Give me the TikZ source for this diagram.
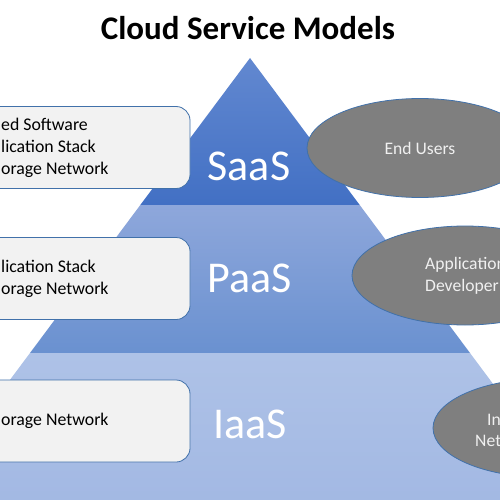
\documentclass[tikz,border=0pt]{standalone}
\usepackage{fontspec}
\setmainfont{Carlito}
\usetikzlibrary{shapes.geometric,positioning}
\definecolor{SaaSTop}{RGB}{98,136,208}
\definecolor{SaaSBottom}{RGB}{66,112,196}
\definecolor{PaaSTop}{RGB}{142,167,219}
\definecolor{PaaSBottom}{RGB}{106,145,208}
\definecolor{IaaSTop}{RGB}{174,194,231}
\definecolor{IaaSBottom}{RGB}{162,184,227}
\definecolor{BoxFill}{RGB}{242,242,242}
\definecolor{EdgeBlue}{RGB}{65,113,170}
\definecolor{CloudGray}{RGB}{127,127,127}
\tikzset{
    layerbox/.style={draw=EdgeBlue, fill=BoxFill, rectangle, rounded corners=14pt,
                     minimum width=230pt, minimum height=82pt, line width=0.8pt},
    boxtext/.style={anchor=west, align=left, inner sep=0pt,
                    font=\fontsize{17.8}{22}\selectfont},
    usercloud/.style={draw=EdgeBlue, fill=CloudGray, ellipse, inner sep=0pt,
                      minimum width=226pt, minimum height=99pt, line width=0.8pt,
                      text=white!94!black, font=\fontsize{17.6}{22}\selectfont},
    usertext/.style={anchor=west, align=left, inner sep=0pt, text=white!94!black,
                     font=\fontsize{17.6}{22}\selectfont},
    layerlabel/.style={anchor=base, inner sep=0pt, text=white,
                       font=\fontsize{44}{44}\selectfont}
}
\begin{document}
\begin{tikzpicture}[x=1pt, y=-1pt]
    \useasboundingbox (0,0) rectangle (500,500);
    \clip (0,0) rectangle (500,500);
    \fill[white] (0,0) rectangle (500,500);

    % Title
    \node[anchor=base, inner sep=0pt, font=\fontsize{33}{33}\selectfont\bfseries] (title) at (248,40) {Cloud Service Models};

    % Pyramid corners
    \coordinate (apex) at (250,58);
    \coordinate (sl) at (140.3,205);
    \coordinate (sr) at (359.7,205);
    \coordinate (pl) at (30,353);
    \coordinate (pr) at (470,353);
    \coordinate (il) at (-87,510);
    \coordinate (ir) at (587,510);

    % Pyramid layers
    \shade[top color=SaaSTop, bottom color=SaaSBottom] (apex) -- (sr) -- (sl) -- cycle;
    \shade[top color=PaaSTop, bottom color=PaaSBottom] (sl) -- (sr) -- (pr) -- (pl) -- cycle;
    \shade[top color=IaaSTop, bottom color=IaaSBottom] (pl) -- (pr) -- (ir) -- (il) -- cycle;

    \node[layerlabel] (saas) at (249,180) {SaaS};
    \node[layerlabel] (paas) at (250,292) {PaaS};
    \node[layerlabel] (iaas) at (250,438) {IaaS};

    % Left boxes
    \node[layerbox] (saasbox) at (75,147.5) {};
    \node[layerbox] (paasbox) at (75,278.5) {};
    \node[layerbox] (iaasbox) at (75,421) {};
    \node[boxtext] (saastext) at (1,148) {ed Software\\lication Stack\\orage Network};
    \node[boxtext] (paastext) at (1,279) {lication Stack\\orage Network};
    \node[boxtext] (iaastext) at (1,421) {orage Network};

    % Right ellipses
    \node[usercloud] (endusers) at (420,148) {End Users};
    \node[usercloud] (developers) at (465,275.5) {};
    \node[usertext] (devtext) at (425,276) {Application\\Developer};
    \node[usercloud] (netusers) at (546,428) {};
    \node[usertext] (nettop) at (487,420) {In};
    \node[usertext] (netbottom) at (475,441) {Net};
\end{tikzpicture}
\end{document}
